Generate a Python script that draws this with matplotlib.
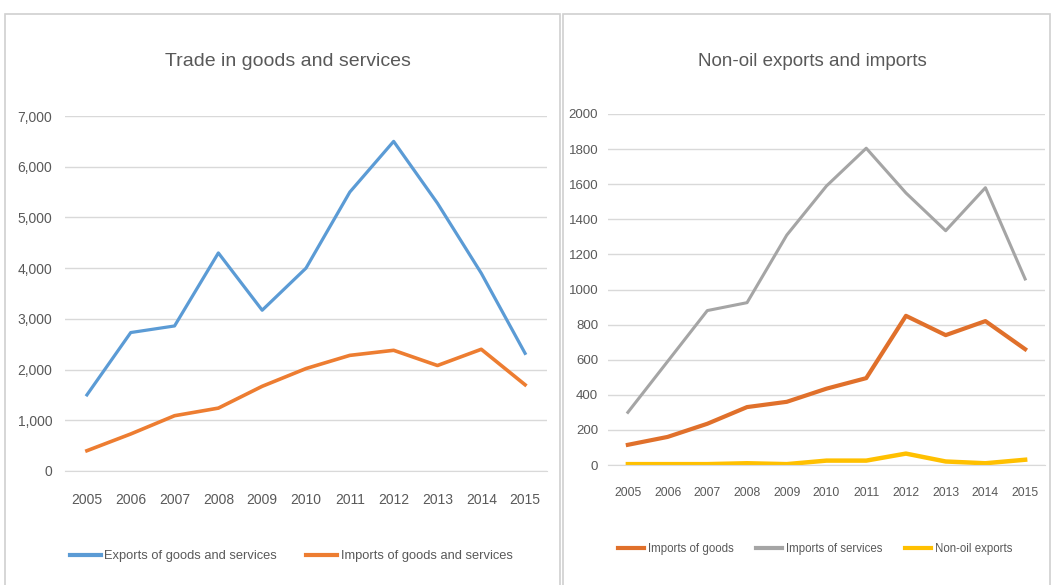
import matplotlib
matplotlib.use("Agg")
import matplotlib.pyplot as plt
from matplotlib.patches import Rectangle
from matplotlib.ticker import FuncFormatter

# data (US$ million)
years = [2005, 2006, 2007, 2008, 2009, 2010, 2011, 2012, 2013, 2014, 2015]
exports_gs = [1500, 2730, 2860, 4300, 3170, 4000, 5500, 6500, 5280, 3900, 2320]
imports_gs = [400, 730, 1090, 1240, 1670, 2020, 2280, 2380, 2080, 2400, 1700]
imports_goods = [115, 160, 235, 330, 360, 435, 495, 850, 740, 820, 660]
imports_services = [300, 590, 880, 925, 1310, 1590, 1805, 1550, 1335, 1580, 1060]
nonoil_exports = [5, 5, 5, 10, 5, 25, 25, 65, 20, 10, 30]

TXT = '#595959'
GRID = '#d9d9d9'
plt.rcParams['font.family'] = ['Liberation Sans', 'DejaVu Sans']

fig = plt.figure(figsize=(10.55, 5.85), dpi=100)
W, H = 1055, 585

def px(x0, y0, x1, y1):
    # pixel box (top-left origin) -> figure fraction rect
    return [x0 / W, 1 - y1 / H, (x1 - x0) / W, (y1 - y0) / H]

# panel frames
for x0, x1 in [(5, 560), (563, 1050)]:
    fig.patches.append(Rectangle((x0 / W, -0.01), (x1 - x0) / W, 1 - 14 / H + 0.01,
                                 transform=fig.transFigure, fill=False,
                                 edgecolor='#d0d0d0', lw=1.2))

def style(ax, ymax, step, fmt, ysize, xsize, ypad, xpad):
    ax.set_xlim(2004.5, 2015.5)
    ax.set_ylim(0, ymax)
    ax.set_yticks(range(0, ymax + 1, step))
    ax.yaxis.set_major_formatter(FuncFormatter(fmt))
    ax.set_xticks(years)
    ax.grid(axis='y', color=GRID, lw=1)
    ax.set_axisbelow(True)
    for s in ax.spines.values():
        s.set_visible(False)
    ax.spines['bottom'].set_visible(True)
    ax.spines['bottom'].set_color(GRID)
    ax.tick_params(length=0, colors=TXT)
    ax.tick_params(axis='y', pad=ypad, labelsize=ysize)
    ax.tick_params(axis='x', pad=xpad, labelsize=xsize)

# left chart
ax1 = fig.add_axes(px(65, 116, 547, 471))
ax1.plot(years, exports_gs, color='#5B9BD5', lw=2.3, label='Exports of goods and services')
ax1.plot(years, imports_gs, color='#ED7D31', lw=2.6, label='Imports of goods and services')
style(ax1, 7000, 1000, lambda v, p: f"{int(v):,}", 10, 10, 9, 16)
fig.text(288 / W, 1 - 62 / H, 'Trade in goods and services', ha='center', va='center',
         fontsize=14, color=TXT)
leg1 = ax1.legend(loc='center', bbox_to_anchor=(0.469, (471 - 556) / 355), ncol=2, frameon=False,
                  fontsize=9.3, labelcolor=TXT, handlelength=2.4, handletextpad=0.25,
                  columnspacing=2.3)
for h in leg1.get_lines():
    h.set_linewidth(3)

# right chart
ax2 = fig.add_axes(px(608, 114, 1045, 465))
ax2.plot(years, imports_goods, color='#E0702B', lw=3.0, label='Imports of goods')
ax2.plot(years, imports_services, color='#A5A5A5', lw=2.2, label='Imports of services')
ax2.plot(years, nonoil_exports, color='#FFC000', lw=3.2, label='Non-oil exports')
style(ax2, 2000, 200, lambda v, p: f"{int(v)}", 9.5, 8.8, 7, 16)
fig.text(812 / W, 1 - 62 / H, 'Non-oil exports and imports', ha='center', va='center',
         fontsize=13.5, color=TXT)
leg2 = ax2.legend(loc='center', bbox_to_anchor=(0.474, (465 - 549) / 351), ncol=3, frameon=False,
                  fontsize=8.3, labelcolor=TXT, handlelength=2.2, handletextpad=0.35,
                  columnspacing=2.0)
for h in leg2.get_lines():
    h.set_linewidth(3)

fig.savefig('out.png', dpi=100)
